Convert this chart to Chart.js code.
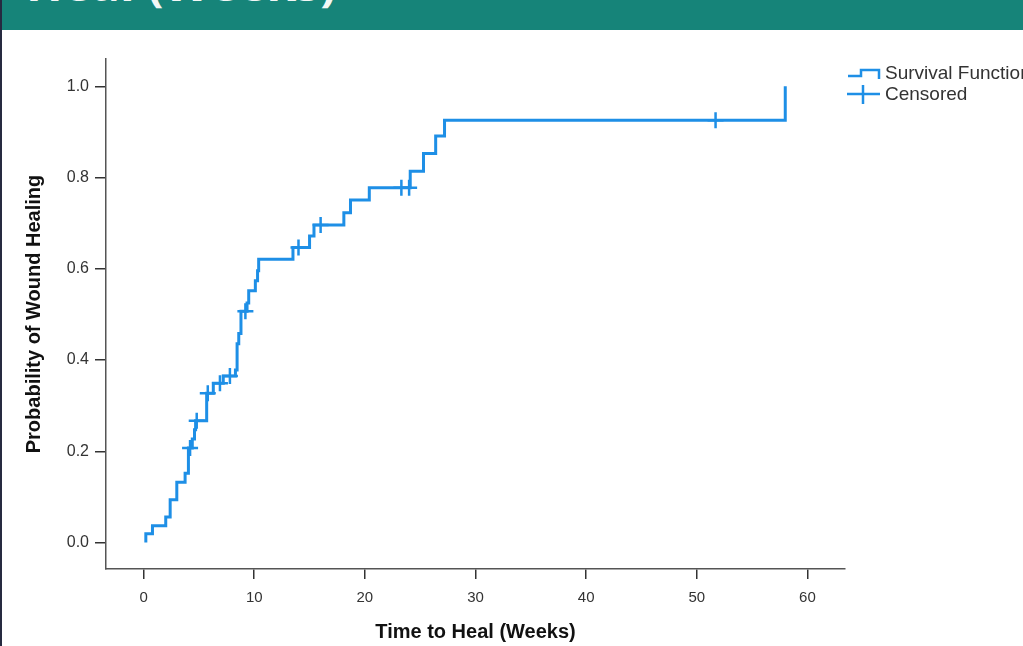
<!DOCTYPE html>
<html>
<head>
<meta charset="utf-8">
<script src="https://cdn.jsdelivr.net/npm/chart.js@4.4.1/dist/chart.umd.min.js"></script>
<style>
  html, body { margin: 0; padding: 0; background: #ffffff; }
  body { width: 1023px; height: 646px; position: relative; overflow: hidden; }
  #frame { position: absolute; left: 0; top: 0; width: 2px; height: 646px; background: #262a40; z-index: 5; }
  #header { position: absolute; left: 2px; top: 0; width: 1021px; height: 30px; background: #168479; overflow: hidden; z-index: 4; }
  #header span { position: absolute; left: 24px; top: -50px; font-family: "Open Sans", "Liberation Sans", sans-serif; font-weight: 700; font-size: 48px; color: #f2f7f6; white-space: nowrap; }
  #wrap { position: absolute; left: 0; top: 0; width: 1023px; height: 646px; }
  #legend { position: absolute; left: 846px; top: 62px; font-family: "Liberation Sans", Arial, sans-serif; font-size: 19px; color: #333; white-space: nowrap; z-index: 3; }
  .item { position: relative; height: 21px; line-height: 21px; }
  .item svg { position: absolute; left: 0; top: 0; }
  .item span { position: absolute; left: 39px; top: 0; }
</style>
</head>
<body>
<div id="frame"></div>
<div id="header"><span>Heal (Weeks)</span></div>
<div id="wrap"><canvas id="c"></canvas></div>
<div id="legend">
  <div class="item">
    <svg width="36" height="21"><polyline points="2,14 15,14 15,8 33,8 33,17" fill="none" stroke="#1E8FE6" stroke-width="2.5"/></svg>
    <span>Survival Function</span>
  </div>
  <div class="item">
    <svg width="36" height="21"><line x1="1" y1="11" x2="34" y2="11" stroke="#1E8FE6" stroke-width="2.5"/><line x1="17" y1="2" x2="17" y2="21" stroke="#1E8FE6" stroke-width="2.5"/></svg>
    <span>Censored</span>
  </div>
</div>
<script>
// ---- data ----
const STEP_TIMES = [0.2, 0.2, 0.8, 2.0, 2.4, 3.0, 3.75, 4.05, 4.4, 4.6, 4.7, 5.7, 6.3, 7.2, 8.3, 8.45, 8.6, 8.8, 9.35, 9.5, 10.1, 10.3, 10.4, 13.5, 15.0, 15.4, 18.1, 18.7, 20.4, 24.1, 25.3, 26.4, 27.2, 58.0];
const STEP_PROBS = [0, 0.019, 0.037, 0.056, 0.094, 0.132, 0.152, 0.207, 0.227, 0.247, 0.267, 0.327, 0.349, 0.365, 0.378, 0.436, 0.458, 0.507, 0.525, 0.552, 0.574, 0.596, 0.621, 0.647, 0.672, 0.696, 0.723, 0.751, 0.778, 0.814, 0.853, 0.891, 0.926, 1.0];
const CENSOR_TIMES = [4.2, 4.8, 5.8, 6.9, 7.8, 9.2, 14.0, 16.0, 23.3, 24.0, 51.7];
const CENSOR_PROBS = [0.207, 0.267, 0.327, 0.349, 0.365, 0.507, 0.647, 0.696, 0.778, 0.778, 0.926];
const X_TICKS = [0, 10, 20, 30, 40, 50, 60];
const Y_TICKS = [0.0, 0.2, 0.4, 0.6, 0.8, 1.0];
const X_TITLE = "Time to Heal (Weeks)";
const Y_TITLE = "Probability of Wound Healing";

const BLUE = "#1E8FE6";
const stepData = STEP_TIMES.map((t, i) => ({ x: t, y: STEP_PROBS[i] }));
const censorData = CENSOR_TIMES.map((t, i) => ({ x: t, y: CENSOR_PROBS[i] }));

new Chart(document.getElementById("c"), {
  type: "line",
  data: {
    datasets: [
      { label: "Survival Function", data: stepData, stepped: true, borderColor: BLUE, borderWidth: 3, pointRadius: 0, fill: false },
      { label: "Censored", data: censorData, showLine: false, pointStyle: "cross", pointRadius: 8, pointBorderWidth: 2.5, borderColor: BLUE, backgroundColor: BLUE }
    ]
  },
  options: {
    responsive: true,
    maintainAspectRatio: false,
    animation: false,
    layout: { padding: { top: 59, right: 178, left: 0, bottom: 0 } },
    plugins: { legend: { display: false }, tooltip: { enabled: false } },
    scales: {
      x: {
        type: "linear", min: -3.4, max: 63.4,
        afterBuildTicks: s => { s.ticks = X_TICKS.map(v => ({ value: v })); },
        afterFit: s => { s.height = 77; },
        grid: { drawOnChartArea: false, drawTicks: true, tickLength: 10, color: "#333", lineWidth: 1.5 },
        border: { color: "#555", width: 1.5 },
        ticks: { padding: 10, color: "#333", font: { family: "Liberation Sans", size: 15 }, callback: v => String(v) },
        title: { display: true, text: X_TITLE, color: "#111", font: { family: "Liberation Sans", size: 20, weight: "bold" }, padding: { top: 0, bottom: 2 } }
      },
      y: {
        type: "linear", min: -0.058, max: 1.06,
        afterBuildTicks: s => { s.ticks = Y_TICKS.map(v => ({ value: v })); },
        afterFit: s => { s.width = 106; },
        grid: { drawOnChartArea: false, drawTicks: true, tickLength: 11, color: "#333", lineWidth: 1.5 },
        border: { color: "#555", width: 1.5 },
        ticks: { padding: 6, color: "#333", font: { family: "Liberation Sans", size: 16 }, callback: v => Number(v).toFixed(1) },
        title: { display: true, text: Y_TITLE, color: "#111", font: { family: "Liberation Sans", size: 20, weight: "bold" }, padding: { top: 22, bottom: 0 } }
      }
    }
  }
});
</script>
</body>
</html>
